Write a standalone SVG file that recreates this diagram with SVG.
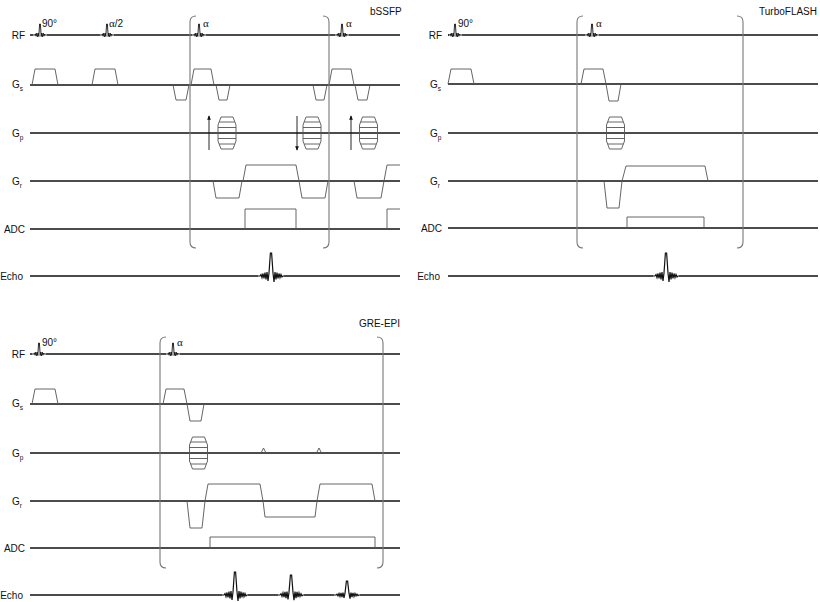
<svg xmlns="http://www.w3.org/2000/svg" xmlns:xlink="http://www.w3.org/1999/xlink" width="820" height="602" viewBox="0 0 820 602">
<style>
.ax{stroke:#111;stroke-width:1.3;fill:none}
.gr{stroke:#555;stroke-width:0.9;fill:none}
.br{stroke:#777;stroke-width:1.1;fill:none}
.rf{stroke:#111;stroke-width:0.9;fill:none;stroke-linejoin:miter}
.ec{stroke:#111;stroke-width:1.2;fill:none}
.arr{stroke:#111;stroke-width:0.9;fill:none}
.lb{font-family:"Liberation Sans",Arial,sans-serif;font-size:10px;fill:#111}
.sub{font-size:6.5px}
.fa{font-family:"Liberation Serif","Times New Roman",serif;font-size:11px;fill:#111}
.fl{font-family:"Liberation Sans",Arial,sans-serif;font-size:10px;fill:#111}
.tt{font-family:"Liberation Sans",Arial,sans-serif;font-size:10px;fill:#111}
</style>
<defs>
<path id="rfp" class="rf" d="M-7,0 L-5,0 L-4.5,-1.2 L-4,1.2 L-3.3,-1.8 L-2.6,1.8 L-1.8,-2 L-1.2,1.5 L-0.4,-11 L0.4,-11 L1.2,1.5 L1.8,-2 L2.6,1.8 L3.3,-1.8 L4,1.2 L4.5,-1 L5,0 L7,0"/>
<path id="echo" class="ec" vector-effect="non-scaling-stroke" d="M-13,0 L-11,0 L-10,-1.5 L-9,1.5 L-8,-2.5 L-7,2.5 L-6,-3.5 L-5,3.5 L-4,-4 L-3,5 L-2,-3 L-0.6,-23 L0.6,-23 L2,-3 L3,6 L4,-4 L5,3.5 L6,-3.5 L7,2.5 L8,-2.5 L9,1.5 L10,-1.5 L11,1 L12,0 L13,0"/>
<g id="pe" class="gr">
<polygon points="-6,-16 6,-16 9,-8 9,8 6,16 -6,16 -9,8 -9,-8"/>
<path d="M-7.7,-11 H7.7 M-9,-5.5 H9 M-9,5.5 H9 M-7.7,11 H7.7"/>
</g>
<marker id="ah" viewBox="0 0 6 6" refX="5" refY="3" markerWidth="5" markerHeight="5" orient="auto">
<path d="M0,0.5 L6,3 L0,5.5 Z" fill="#111"/>
</marker>
</defs>

<!-- ============ bSSFP ============ -->
<g id="bssfp">
<text class="tt" x="370" y="15">bSSFP</text>
<g id="bssfp-labels">
<text class="lb" x="25" y="39" text-anchor="end">RF</text>
<text class="lb" x="12" y="88">G<tspan class="sub" dy="3">s</tspan></text>
<text class="lb" x="12" y="137">G<tspan class="sub" dy="3">p</tspan></text>
<text class="lb" x="12" y="185">G<tspan class="sub" dy="3">r</tspan></text>
<text class="lb" x="25" y="233" text-anchor="end">ADC</text>
<text class="lb" x="23" y="280" text-anchor="end">Echo</text>
</g>
<g id="bssfp-rf">
<path class="ax" d="M30,35 H33 M47,35 H100 M114,35 H192 M206,35 H335 M349,35 H400"/>
<use xlink:href="#rfp" x="40" y="35"/>
<use xlink:href="#rfp" x="107" y="35"/>
<use xlink:href="#rfp" x="199" y="35"/>
<use xlink:href="#rfp" x="342" y="35"/>
<text class="fl" x="42" y="27">90°</text>
<text class="fl" x="109" y="27"><tspan class="fa">α</tspan>/2</text>
<text class="fa" x="203" y="27">α</text>
<text class="fa" x="346" y="27">α</text>
</g>
<g id="bssfp-gs">
<path class="ax" d="M30,85 H400"/>
<path class="gr" d="M32,85 L35,69 L55,69 L58,85 M92,85 L95,69 L115,69 L118,85 M173,85 L176,100 L186,100 L189,85 M191,85 L194,69 L211,69 L214,85 M216,85 L219,100 L227,100 L230,85 M313,85 L316,100 L324,100 L327,85 M329,85 L332,69 L351,69 L354,85 M355,85 L358,100 L367,100 L370,85"/>
</g>
<g id="bssfp-gp">
<path class="ax" d="M30,133 H400"/>
<use xlink:href="#pe" x="227" y="133"/>
<use xlink:href="#pe" x="312" y="133"/>
<use xlink:href="#pe" x="368.5" y="133"/>
<path class="arr" marker-end="url(#ah)" d="M209,150 V116"/>
<path class="arr" marker-end="url(#ah)" d="M297,116 V150"/>
<path class="arr" marker-end="url(#ah)" d="M351,150 V116"/>
</g>
<g id="bssfp-gr">
<path class="ax" d="M30,181 H400"/>
<path class="gr" d="M213,181 L216,198 L239,198 L242,181 M243,181 L246,165 L296,165 L299,181 M299,181 L302,198 L325,198 L328,181 M354,181 L357,198 L381,198 L384,181 M384,181 L387,165 L400,165"/>
</g>
<g id="bssfp-adc">
<path class="ax" d="M30,229 H400"/>
<path class="gr" d="M245,229 V209 H296 V229 M387,229 V209 H400"/>
</g>
<g id="bssfp-echo">
<path class="ax" d="M30,276 H258 M284,276 H400"/>
<use xlink:href="#echo" x="271" y="276"/>
</g>
<g id="bssfp-brackets">
<path class="br" d="M196,16 Q190,16 190,22 V242 Q190,248 196,248"/>
<path class="br" d="M323,16 Q329,16 329,22 V242 Q329,248 323,248"/>
</g>
</g>

<!-- ============ TurboFLASH ============ -->
<g id="turboflash">
<text class="tt" x="817" y="15" text-anchor="end">TurboFLASH</text>
<g id="tf-labels">
<text class="lb" x="442" y="39" text-anchor="end">RF</text>
<text class="lb" x="430" y="88">G<tspan class="sub" dy="3">s</tspan></text>
<text class="lb" x="430" y="137">G<tspan class="sub" dy="3">p</tspan></text>
<text class="lb" x="430" y="185">G<tspan class="sub" dy="3">r</tspan></text>
<text class="lb" x="442" y="232" text-anchor="end">ADC</text>
<text class="lb" x="440" y="280" text-anchor="end">Echo</text>
</g>
<g id="tf-rf">
<path class="ax" d="M448,35 H449 M462,35 H585 M599,35 H818"/>
<use xlink:href="#rfp" x="455" y="35"/>
<use xlink:href="#rfp" x="592" y="35"/>
<text class="fl" x="458" y="27">90°</text>
<text class="fa" x="596" y="27">α</text>
</g>
<g id="tf-gs">
<path class="ax" d="M448,84 H818"/>
<path class="gr" d="M448,84 L451,69 L471,69 L474,84 M581,84 L584,69 L603,69 L606,84 M606,84 L609,101 L618,101 L621,84"/>
</g>
<g id="tf-gp">
<path class="ax" d="M448,133 H818"/>
<use xlink:href="#pe" x="615.5" y="133"/>
</g>
<g id="tf-gr">
<path class="ax" d="M448,181 H818"/>
<path class="gr" d="M604,181 L607,208 L619,208 L622,181 M622,181 L626,166 L705,166 L708,181"/>
</g>
<g id="tf-adc">
<path class="ax" d="M448,228 H818"/>
<path class="gr" d="M627,228 V217 H704 V228"/>
</g>
<g id="tf-echo">
<path class="ax" d="M448,276 H653 M679,276 H818"/>
<use xlink:href="#echo" x="666" y="276"/>
</g>
<g id="tf-brackets">
<path class="br" d="M583,16 Q577,16 577,22 V242 Q577,248 583,248"/>
<path class="br" d="M737,16 Q743,16 743,22 V242 Q743,248 737,248"/>
</g>
</g>

<!-- ============ GRE-EPI ============ -->
<g id="greepi">
<text class="tt" x="400" y="327" text-anchor="end">GRE-EPI</text>
<g id="epi-labels">
<text class="lb" x="25" y="358" text-anchor="end">RF</text>
<text class="lb" x="12" y="407">G<tspan class="sub" dy="3">s</tspan></text>
<text class="lb" x="12" y="457">G<tspan class="sub" dy="3">p</tspan></text>
<text class="lb" x="12" y="505">G<tspan class="sub" dy="3">r</tspan></text>
<text class="lb" x="25" y="552" text-anchor="end">ADC</text>
<text class="lb" x="23" y="599" text-anchor="end">Echo</text>
</g>
<g id="epi-rf">
<path class="ax" d="M30,354 H32 M46,354 H166 M180,354 H400"/>
<use xlink:href="#rfp" x="39" y="354"/>
<use xlink:href="#rfp" x="173" y="354"/>
<text class="fl" x="42" y="346">90°</text>
<text class="fa" x="177" y="346">α</text>
</g>
<g id="epi-gs">
<path class="ax" d="M30,404 H400"/>
<path class="gr" d="M32,404 L35,389 L55,389 L58,404 M163,404 L166,389 L184,389 L187,404 M187,404 L190,421 L201,421 L204,404"/>
</g>
<g id="epi-gp">
<path class="ax" d="M30,453 H400"/>
<use xlink:href="#pe" x="198.5" y="453"/>
<path class="gr" d="M261,453 L263.5,448 L266,453 M316.5,453 L319,448 L321.5,453"/>
</g>
<g id="epi-gr">
<path class="ax" d="M30,501 H400"/>
<path class="gr" d="M187,501 L190,528 L202,528 L205,501 M205,501 L208,484 L260,484 L263,501 M263,501 L265,517 L315,517 L317,501 M317,501 L320,484 L372,484 L375,501"/>
</g>
<g id="epi-adc">
<path class="ax" d="M30,548 H400"/>
<path class="gr" d="M210,548 V537 H375 V548"/>
</g>
<g id="epi-echo">
<path class="ax" d="M30,595 H222 M248,595 H278 M304,595 H334 M360,595 H400"/>
<use xlink:href="#echo" transform="translate(235,595)"/>
<use xlink:href="#echo" transform="translate(291,595) scale(1,0.87)"/>
<use xlink:href="#echo" transform="translate(347,595) scale(1,0.6)"/>
</g>
<g id="epi-brackets">
<path class="br" d="M166,337 Q160,337 160,343 V562 Q160,568 166,568"/>
<path class="br" d="M377,337 Q383,337 383,343 V562 Q383,568 377,568"/>
</g>
</g>
</svg>
